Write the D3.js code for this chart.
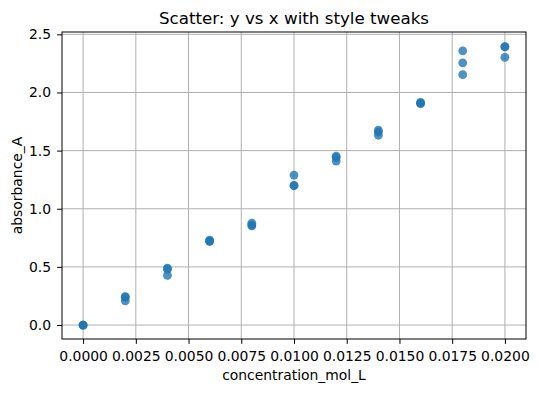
<!DOCTYPE html>
<html>
<head>
<meta charset="utf-8">
<script src="https://cdn.jsdelivr.net/npm/d3@7"></script>
<style>
  body { margin: 0; background: #fff; }
  text { font-family: "DejaVu Sans", sans-serif; fill: #000; }
</style>
</head>
<body>
<div id="chart"></div>
<script>
// readings, three replicates per concentration
var concentration = [0, 0, 0, 0.002, 0.002, 0.002, 0.004, 0.004, 0.004,
  0.006, 0.006, 0.006, 0.008, 0.008, 0.008, 0.010, 0.010, 0.010,
  0.012, 0.012, 0.012, 0.014, 0.014, 0.014, 0.016, 0.016, 0.016,
  0.018, 0.018, 0.018, 0.020, 0.020, 0.020]
var absorbance = [0, 0, 0, 0.245, 0.24, 0.208, 0.49, 0.48, 0.427,
  0.73, 0.722, 0.72, 0.876, 0.86, 0.852, 1.29, 1.2, 1.198,
  1.452, 1.44, 1.41, 1.676, 1.66, 1.632, 1.915, 1.908, 1.905,
  2.358, 2.255, 2.153, 2.395, 2.392, 2.302]
var xTicks = [0, 0.0025, 0.005, 0.0075, 0.01, 0.0125, 0.015, 0.0175, 0.02]
var yTicks = [0, 0.5, 1.0, 1.5, 2.0, 2.5]

var width = 539, height = 393
var margin = {top: 32, right: 13, bottom: 54, left: 62}
var fs = 13.9

var svg = d3.select('#chart').append('svg')
  .attr('width', width)
  .attr('height', height)

var x = d3.scaleLinear()
  .domain([-0.001, 0.021])
  .range([margin.left, width - margin.right])
var y = d3.scaleLinear()
  .domain([-0.12, 2.52])
  .range([height - margin.bottom, margin.top])

// grid
svg.append('g').selectAll('line')
  .data(xTicks).enter().append('line')
  .attr('x1', d => x(d)).attr('x2', d => x(d))
  .attr('y1', margin.top).attr('y2', height - margin.bottom)
  .attr('stroke', '#b0b0b0').attr('stroke-width', 1)
svg.append('g').selectAll('line')
  .data(yTicks).enter().append('line')
  .attr('y1', d => y(d)).attr('y2', d => y(d))
  .attr('x1', margin.left).attr('x2', width - margin.right)
  .attr('stroke', '#b0b0b0').attr('stroke-width', 1)

// points
svg.append('g').selectAll('circle')
  .data(concentration).enter().append('circle')
  .attr('cx', d => x(d))
  .attr('cy', (d, i) => y(absorbance[i]))
  .attr('r', 4.4)
  .attr('fill', '#1f77b4')
  .attr('fill-opacity', 0.8)

// axes
svg.append('g')
  .attr('transform', 'translate(0,' + (height - margin.bottom) + ')')
  .call(d3.axisBottom(x).tickValues(xTicks).tickFormat(d3.format('.4f')).tickSize(4.9).tickPadding(4.9))
  .selectAll('.tick text').attr('y', 22).attr('dy', 0)
svg.append('g')
  .attr('transform', 'translate(' + margin.left + ',0)')
  .call(d3.axisLeft(y).tickValues(yTicks).tickFormat(d3.format('.1f')).tickSize(4.9).tickPadding(4.9))
  .selectAll('.tick text').attr('x', -11)

svg.selectAll('.domain').remove()
svg.selectAll('.tick line').attr('stroke', '#000')
svg.selectAll('.tick text').style('font-size', fs + 'px').style('font-family', '"DejaVu Sans", sans-serif')

svg.append('rect')
  .attr('x', margin.left).attr('y', margin.top)
  .attr('width', width - margin.left - margin.right)
  .attr('height', height - margin.top - margin.bottom)
  .attr('fill', 'none').attr('stroke', '#000').attr('stroke-width', 1)

// labels
svg.append('text')
  .attr('x', (margin.left + width - margin.right) / 2)
  .attr('y', 24)
  .attr('text-anchor', 'middle')
  .style('font-size', '16.7px')
  .text('Scatter: y vs x with style tweaks')
svg.append('text')
  .attr('x', (margin.left + width - margin.right) / 2)
  .attr('y', 380)
  .attr('text-anchor', 'middle')
  .style('font-size', fs + 'px')
  .text('concentration_mol_L')
svg.append('text')
  .attr('transform', 'translate(22,' + ((margin.top + height - margin.bottom) / 2) + ') rotate(-90)')
  .attr('text-anchor', 'middle')
  .style('font-size', fs + 'px')
  .text('absorbance_A')
</script>
</body>
</html>
